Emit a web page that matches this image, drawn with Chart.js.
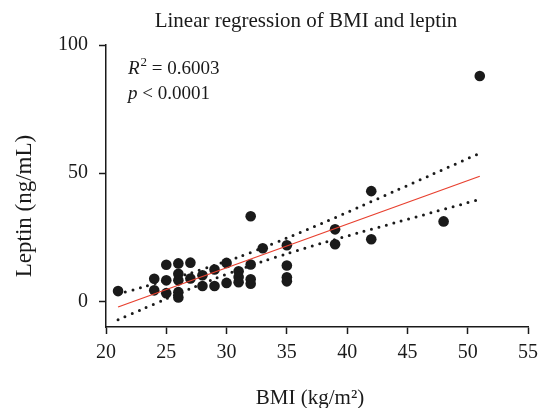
<!DOCTYPE html>
<html>
<head>
<meta charset="utf-8">
<script src="https://cdn.jsdelivr.net/npm/chart.js@4/dist/chart.umd.min.js"></script>
<style>
    html, body { margin: 0; padding: 0; background: #fff; }
    #wrap { width: 542px; height: 408px; position: relative; }
</style>
</head>
<body>
<div id="wrap"><canvas id="bmiChart"></canvas></div>
<script>
// values
const bmi = [21, 24, 24, 25, 25, 25, 26, 26, 26, 26, 26, 27, 27, 28, 28, 29, 29, 30, 30,
    31, 31, 31, 32, 32, 32, 32, 33, 35, 35, 35, 35, 39, 39, 42, 42, 48, 51];
const leptin = [4.0, 8.8, 4.3, 14.3, 8.2, 3.2, 14.8, 10.8, 8.2, 3.6, 1.5, 15.1, 8.9, 10.2, 6.0, 12.4, 6.0, 15.0, 7.2,
    11.7, 9.5, 7.5, 33.2, 14.4, 8.6, 6.9, 20.7, 21.9, 14.0, 9.4, 7.8, 28.1, 22.3, 43.0, 24.2, 31.2, 87.9];

// fitted line endpoints and the dotted confidence band
const fitX = [21, 51];
const fitY = [-2.2, 48.8];
const bandX = [21, 23, 25, 27, 29, 31, 33, 35, 38, 41, 44, 47, 51];
const bandUpper = [2.8, 5.5, 8.2, 11.0, 14.1, 17.3, 20.9, 24.7, 30.6, 36.8, 43.1, 49.4, 57.8];
const bandLower = [-7.2, -3.1, 1.0, 5.0, 8.8, 12.3, 15.6, 18.6, 22.8, 26.8, 30.7, 34.6, 39.8];

const yTicks = [0, 50, 100];
const chartTitle = 'Linear regression of BMI and leptin';
const xTitle = 'BMI (kg/m\u00B2)';
const yTitle = 'Leptin (ng/mL)';
const rSquared = '0.6003';
const pValue = '0.0001';

const serif = '"Liberation Serif", "DejaVu Serif", serif';

function toPoints(xs, ys) {
    return xs.map((x, i) => ({ x: x, y: ys[i] }));
}

const textPlugin = {
    id: 'textPlugin',
    afterDraw(chart) {
        const ctx = chart.ctx;
        ctx.save();
        ctx.fillStyle = '#1a1a1a';
        ctx.textBaseline = 'alphabetic';

        // chart title
        ctx.font = '21px ' + serif;
        ctx.textAlign = 'center';
        ctx.fillText(chartTitle, 306, 27);

        // x axis title
        ctx.font = '21px ' + serif;
        ctx.fillText(xTitle, 310, 404);

        // y axis title
        ctx.save();
        ctx.translate(31, 206);
        ctx.rotate(-Math.PI / 2);
        ctx.font = '23px ' + serif;
        ctx.fillText(yTitle, 0, 0);
        ctx.restore();

        // R squared and p value
        ctx.textAlign = 'left';
        let x = 128;
        ctx.font = 'italic 19px ' + serif;
        ctx.fillText('R', x, 74);
        x += ctx.measureText('R').width + 1;
        ctx.font = '13px ' + serif;
        ctx.fillText('2', x, 66);
        x += ctx.measureText('2').width;
        ctx.font = '19px ' + serif;
        ctx.fillText(' = ' + rSquared, x, 74);

        x = 128;
        ctx.font = 'italic 19px ' + serif;
        ctx.fillText('p', x, 99);
        x += ctx.measureText('p').width;
        ctx.font = '19px ' + serif;
        ctx.fillText(' < ' + pValue, x, 99);
        ctx.restore();
    }
};

const ctx = document.getElementById('bmiChart').getContext('2d');
new Chart(ctx, {
    type: 'scatter',
    data: {
        datasets: [
            {
                label: 'Upper band',
                type: 'line',
                data: toPoints(bandX, bandUpper),
                borderColor: '#1a1a1a',
                borderWidth: 3,
                borderDash: [0, 7.7],
                borderCapStyle: 'round',
                pointRadius: 0,
                tension: 0.3,
                fill: false
            },
            {
                label: 'Lower band',
                type: 'line',
                data: toPoints(bandX, bandLower),
                borderColor: '#1a1a1a',
                borderWidth: 3,
                borderDash: [0, 7.7],
                borderCapStyle: 'round',
                pointRadius: 0,
                tension: 0.3,
                fill: false
            },
            {
                label: 'Fit',
                type: 'line',
                data: toPoints(fitX, fitY),
                borderColor: '#e8402f',
                borderWidth: 1.3,
                pointRadius: 0,
                fill: false
            },
            {
                label: 'Leptin',
                data: toPoints(bmi, leptin),
                backgroundColor: '#1a1a1a',
                borderWidth: 0,
                pointRadius: 5.3
            }
        ]
    },
    options: {
        responsive: true,
        maintainAspectRatio: false,
        animation: false,
        layout: {
            padding: { top: 45, right: 14, bottom: 0, left: 0 }
        },
        plugins: {
            legend: { display: false },
            tooltip: { enabled: false }
        },
        scales: {
            x: {
                type: 'linear',
                min: 20,
                max: 55,
                afterFit: function(scale) {
                    scale.height = 81;
                    scale.paddingLeft = 0;
                    scale.paddingRight = 0;
                },
                ticks: {
                    stepSize: 5,
                    padding: 7,
                    color: '#1a1a1a',
                    font: { family: serif, size: 20 }
                },
                grid: {
                    drawOnChartArea: false,
                    drawTicks: true,
                    tickLength: 7,
                    tickWidth: 1.5,
                    tickColor: '#1a1a1a'
                },
                border: { display: true, color: '#1a1a1a', width: 1.5 }
            },
            y: {
                type: 'linear',
                min: -10,
                max: 100,
                afterFit: function(scale) {
                    scale.width = 106;
                    scale.paddingTop = 0;
                    scale.paddingBottom = 0;
                },
                afterBuildTicks: function(scale) {
                    scale.ticks = yTicks.map(v => ({ value: v }));
                },
                ticks: {
                    padding: 11,
                    color: '#1a1a1a',
                    font: { family: serif, size: 20 }
                },
                grid: {
                    drawOnChartArea: false,
                    drawTicks: true,
                    tickLength: 7,
                    tickWidth: 1.5,
                    tickColor: '#1a1a1a'
                },
                border: { display: true, color: '#1a1a1a', width: 1.5 }
            }
        }
    },
    plugins: [textPlugin]
});
</script>
</body>
</html>
